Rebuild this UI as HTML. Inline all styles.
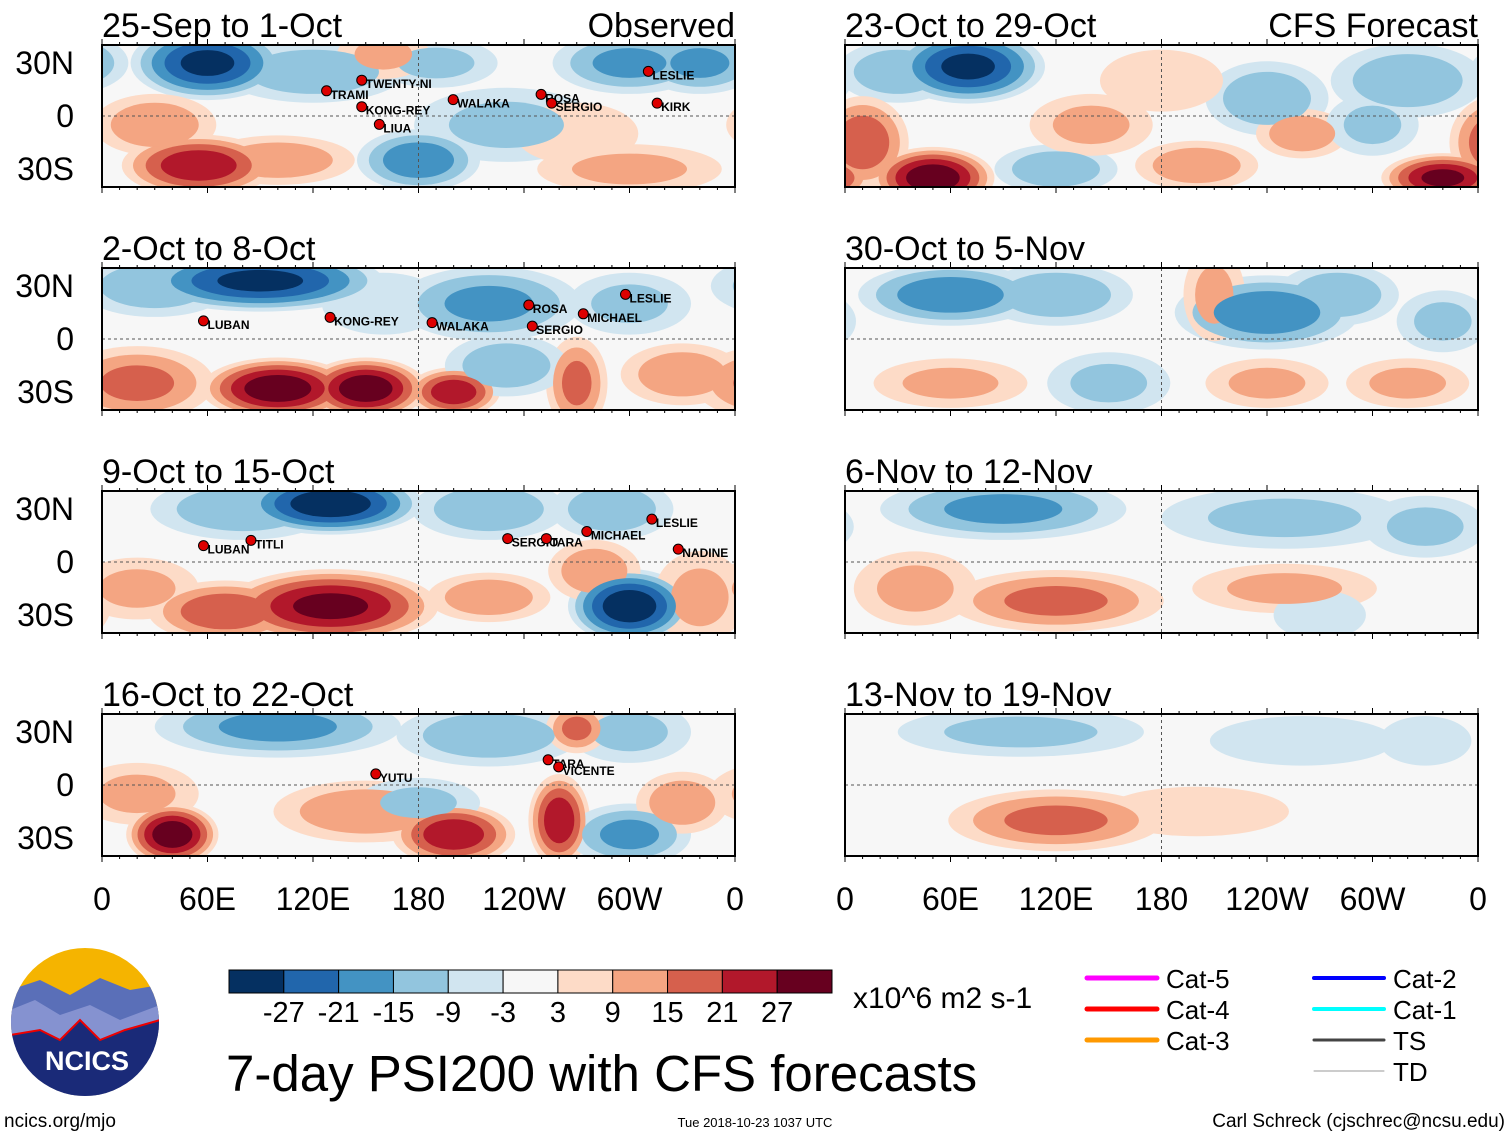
<!DOCTYPE html>
<html><head><meta charset="utf-8"><style>
body{margin:0;background:#fff;width:1510px;height:1137px;overflow:hidden;font-family:"Liberation Sans",sans-serif}
svg{position:absolute;left:0;top:0}
</style></head><body>
<svg id="chart" width="1510" height="1137"></svg>
<script>
const panelTitles=["25-Sep to 1-Oct","23-Oct to 29-Oct","2-Oct to 8-Oct","30-Oct to 5-Nov","9-Oct to 15-Oct","6-Nov to 12-Nov","16-Oct to 22-Oct","13-Nov to 19-Nov"];
// blobs: [lon, lat, value, lonRadius, latRadius]
const blobs0=[[60,30,-27,25,12],[120,25,-12,30,10],[190,30,-9,20,8],[300,30,-15,25,10],[340,30,-15,20,10],[55,-28,24,25,10],[100,-25,12,25,8],[180,-25,-18,20,10],[230,-5,-9,30,12],[30,-5,12,20,10],[300,-30,9,30,8],[160,35,9,15,8],[270,-10,6,20,10]];
const blobs1=[[70,28,-27,25,12],[30,25,-12,20,10],[240,10,-12,20,12],[320,20,-12,25,12],[10,-15,18,15,15],[50,-35,30,20,10],[120,-30,-12,20,8],[200,-28,12,20,8],[340,-35,27,20,8],[260,-10,12,15,8],[300,-5,-9,15,10],[140,-5,9,20,10],[180,20,6,20,10]];
const blobs2=[[90,33,-27,40,10],[30,30,-12,25,10],[220,20,-15,30,12],[300,20,-9,20,10],[100,-28,30,25,10],[150,-28,30,20,10],[20,-25,15,25,12],[200,-30,24,15,8],[270,-25,15,10,15],[230,-15,-12,20,10],[330,-20,12,20,10],[160,20,-6,20,10]];
const blobs3=[[60,25,-18,30,10],[120,25,-12,25,10],[240,15,-18,30,12],[280,25,-12,20,10],[210,25,9,10,15],[150,-25,-9,20,10],[60,-25,9,25,8],[240,-25,9,20,8],[320,-25,9,20,8],[340,10,-9,15,10]];
const blobs4=[[130,33,-30,30,10],[80,30,-12,30,10],[220,30,-12,25,10],[290,30,-12,20,10],[130,-25,27,35,12],[70,-28,18,25,10],[220,-20,12,20,8],[300,-25,-30,20,12],[280,-5,12,15,10],[340,-20,9,15,15],[20,-15,9,20,10]];
const blobs5=[[90,30,-15,40,10],[250,25,-9,40,10],[330,20,-9,20,10],[120,-22,15,35,10],[40,-15,9,20,12],[250,-15,9,30,8],[270,-30,-6,15,8]];
const blobs6=[[100,33,-15,40,10],[220,28,-12,30,10],[300,30,-9,20,10],[270,32,15,10,8],[40,-28,30,15,10],[150,-15,12,30,10],[200,-28,24,20,10],[260,-20,24,10,15],[300,-28,-15,20,10],[330,-10,12,15,10],[180,-10,-9,20,8],[20,-5,9,20,10]];
const blobs7=[[120,-20,15,35,10],[200,-15,6,30,8],[100,30,-9,40,8],[260,25,-6,30,8],[330,25,-6,15,8]];
const allBlobs=[blobs0,blobs1,blobs2,blobs3,blobs4,blobs5,blobs6,blobs7];
const levels=[3,9,15,21,27];
const negColors=["#d1e5f0","#92c5de","#4393c3","#2166ac","#053061"];
const posColors=["#fddbc7","#f4a582","#d6604d","#b2182b","#67001f"];
const cbColors=["#053061","#2166ac","#4393c3","#92c5de","#d1e5f0","#f7f7f7","#fddbc7","#f4a582","#d6604d","#b2182b","#67001f"];
const cbLabels=["-27","-21","-15","-9","-3","3","9","15","21","27"];
const lonTicks=["0","60E","120E","180","120W","60W","0"];
const latTicks=["30N","0","30S"];
const storms=[[0,"TWENTY-NI",150,18],[0,"TRAMI",130,12],[0,"KONG-REY",150,3],[0,"WALAKA",202,7],[0,"LIUA",160,-7],[0,"ROSA",252,10],[0,"SERGIO",258,5],[0,"LESLIE",313,23],[0,"KIRK",318,5],
[2,"LUBAN",60,8],[2,"KONG-REY",132,10],[2,"WALAKA",190,7],[2,"ROSA",245,17],[2,"MICHAEL",276,12],[2,"LESLIE",300,23],[2,"SERGIO",247,5],
[4,"LUBAN",60,7],[4,"TITLI",87,10],[4,"SERGIO",233,11],[4,"TARA",255,11],[4,"MICHAEL",278,15],[4,"LESLIE",315,22],[4,"NADINE",330,5],
[6,"YUTU",158,4],[6,"TARA",256,12],[6,"VICENTE",262,8]];

const NS="http://www.w3.org/2000/svg";
const svg=document.getElementById("chart");
function mk(tag,attrs,parent){const e=document.createElementNS(NS,tag);for(const k in attrs)e.setAttribute(k,attrs[k]);(parent||svg).appendChild(e);return e;}
const PW=633,PH=142;
function px(p){return {x0:(p%2===0)?102:845,y0:45+223*Math.floor(p/2)};}
function xs(p,lon){return px(p).x0+lon/360*PW;}
function ys(p,lat){return px(p).y0+71-lat*53/30;}

const defs=mk("defs",{});
for(let p=0;p<8;p++){
  const {x0,y0}=px(p);
  const cp=mk("clipPath",{id:"c"+p},defs);mk("rect",{x:x0,y:y0,width:PW,height:PH},cp);
  const g=mk("g",{"clip-path":"url(#c"+p+")"});
  
  
  mk("rect",{x:x0,y:y0,width:PW,height:PH,fill:"#f7f7f7"},g);
  const b=allBlobs[p];
  for(let li=0;li<levels.length;li++){
    const t=levels[li];
    b.forEach(bl=>{
      const a=Math.abs(bl[2]);if(a<t)return;
      const s=1.75*Math.pow(1-(t-3)/(a+2),0.6);
      for(const sh of [-360,0,360]){
        const e=mk("ellipse",{cx:xs(p,bl[0]+sh),cy:ys(p,bl[1]),rx:bl[3]/360*PW*s,ry:bl[4]*53/30*s,fill:bl[2]<0?negColors[li]:posColors[li]},g);
        
        
      }
    });
  }
  mk("line",{x1:x0,x2:x0+PW,y1:ys(p,0),y2:ys(p,0),stroke:"#555","stroke-dasharray":"3,3","stroke-width":1},g);
  mk("line",{x1:xs(p,180),x2:xs(p,180),y1:y0,y2:y0+PH,stroke:"#555","stroke-dasharray":"3,3","stroke-width":1},g);
  const fr=mk("rect",{x:x0,y:y0,width:PW,height:PH,fill:"none",stroke:"#000","stroke-width":2});
  
  
  for(let lon=0;lon<=360;lon+=10){
    const x=xs(p,lon),L=lon%60===0?6:3;
    mk("line",{x1:x,x2:x,y1:y0,y2:y0-L,stroke:"#000"});
    mk("line",{x1:x,x2:x,y1:y0+PH,y2:y0+PH+L,stroke:"#000"});
  }
  const tt=mk("text",{x:x0,y:y0-8,"font-size":34,fill:"#000"});tt.textContent=panelTitles[p];
  
  
  if(p%2===0){
    [30,0,-30].forEach((lat,i)=>{const t=mk("text",{x:74,y:ys(p,lat)+11,"font-size":32,"text-anchor":"end"});t.textContent=latTicks[i];
      
      });
  }
}
let t=mk("text",{x:735,y:37,"font-size":34,"text-anchor":"end"});t.textContent="Observed";

t=mk("text",{x:1478,y:37,"font-size":34,"text-anchor":"end"});t.textContent="CFS Forecast";

storms.forEach(s=>{
  const x=xs(s[0],s[2]),y=ys(s[0],s[3]);
  mk("circle",{cx:x-4,cy:y-4,r:5,fill:"#d00",stroke:"#000","stroke-width":1});
  const st=mk("text",{x:x,y:y+4,"font-size":12,"font-weight":"bold",fill:"#000"});st.textContent=s[1];
  
  
});
[0,1].forEach(c=>{
  lonTicks.forEach((l,i)=>{const tx=mk("text",{x:xs(c,i*60),y:910,"font-size":32,"text-anchor":"middle"});tx.textContent=l;
    
    });
});
const cbW=603/11;
cbColors.forEach((c,i)=>{const r=mk("rect",{x:229+i*cbW,y:970,width:cbW,height:23,fill:c,stroke:"#000","stroke-width":1});
  
  });
cbLabels.forEach((l,i)=>{const tx=mk("text",{x:229+(i+1)*cbW,y:1022,"font-size":29,"text-anchor":"middle"});tx.textContent=l;
  
  });
t=mk("text",{x:853,y:1008,"font-size":30});t.textContent="x10^6 m2 s-1";

t=mk("text",{x:226,y:1091,"font-size":51});t.textContent="7-day PSI200 with CFS forecasts";

const leg=[["Cat-5","#f0f",1087,978,5],["Cat-4","#f00",1087,1009,5],["Cat-3","#f90",1087,1040,5],["Cat-2","#00f",1314,978,4],["Cat-1","#0ff",1314,1009,4],["TS","#444",1314,1040,3],["TD","#999",1314,1071,1]];
leg.forEach(l=>{
  const ln=mk("line",{x1:l[2],x2:l[2]+70,y1:l[3],y2:l[3],stroke:l[1],"stroke-width":l[4],"stroke-linecap":"round"});
  
  const tx=mk("text",{x:l[2]+79,y:l[3]+10,"font-size":26});tx.textContent=l[0];
  
});
const lg=mk("g",{});

const lc=mk("clipPath",{id:"lc"},defs);mk("circle",{cx:85,cy:1022,r:74},lc);
const lgi=mk("g",{"clip-path":"url(#lc)"},lg);
mk("rect",{x:10,y:946,width:150,height:150,fill:"#f5b400"},lgi);
mk("path",{d:"M10 990 L40 980 L70 995 L100 978 L130 990 L160 985 L160 1100 L10 1100Z",fill:"#5a6fb8"},lgi);
mk("path",{d:"M10 1010 L35 1000 L60 1015 L90 1005 L120 1020 L160 1005 L160 1100 L10 1100Z",fill:"#8592d0"},lgi);
mk("path",{d:"M10 1035 L40 1030 L60 1040 L80 1020 L100 1040 L125 1030 L160 1020 L160 1100 L10 1100Z",fill:"#1a2a78",stroke:"#e00","stroke-width":2},lgi);
t=mk("text",{x:87,y:1070,"font-size":27,"font-weight":"bold",fill:"#fff","text-anchor":"middle"},lg);t.textContent="NCICS";
t=mk("text",{x:4,y:1127,"font-size":19});t.textContent="ncics.org/mjo";

t=mk("text",{x:755,y:1127,"font-size":13,"text-anchor":"middle"});t.textContent="Tue 2018-10-23 1037 UTC";

t=mk("text",{x:1505,y:1127,"font-size":19,"text-anchor":"end"});t.textContent="Carl Schreck (cjschrec@ncsu.edu)";

</script>
</body></html>
